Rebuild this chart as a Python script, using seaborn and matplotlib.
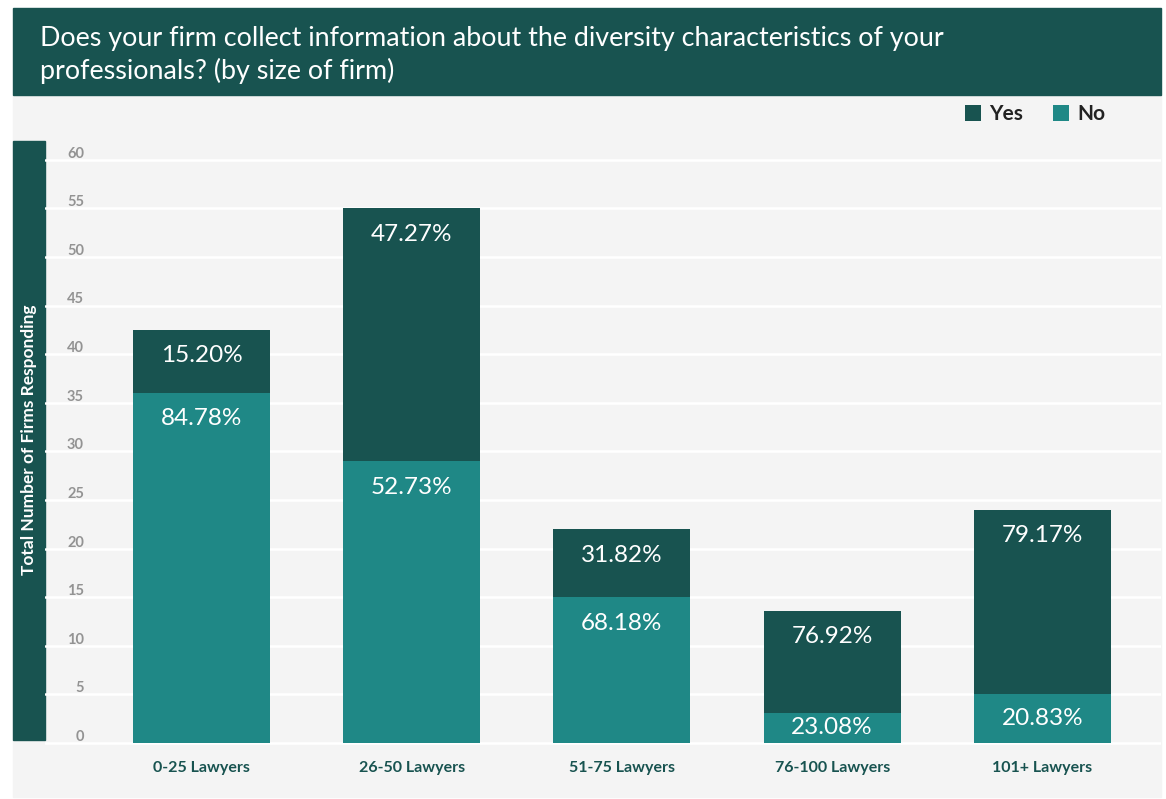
import matplotlib
matplotlib.use("Agg")
import matplotlib.pyplot as plt
from matplotlib.patches import Rectangle, Patch
import seaborn as sns
import pandas as pd

# ---- data -------------------------------------------------------------
categories = ["0-25 Lawyers", "26-50 Lawyers", "51-75 Lawyers", "76-100 Lawyers", "101+ Lawyers"]
total_firms = [42.5, 55, 22, 13.6, 24]          # total firms responding per size band
yes_pct = [15.20, 47.27, 31.82, 76.92, 79.17]   # share answering "Yes"
no_pct = [84.78, 52.73, 68.18, 23.08, 20.83]    # share answering "No"
y_ticks = [0, 5, 10, 15, 20, 25, 30, 35, 40, 45, 50, 55, 60]

title = "Does your firm collect information about the diversity characteristics of your\nprofessionals? (by size of firm)"
y_label = "Total Number of Firms Responding"

# ---- style ------------------------------------------------------------
DARK = "#185350"
TEAL = "#1f8886"
PANEL = "#f4f4f4"
TICK_GREY = "#939393"

sns.set_theme(style="white")
plt.rcParams["font.family"] = ["Lato", "DejaVu Sans"]

W, H, DPI = 1166, 799, 100
fig = plt.figure(figsize=(W / DPI, H / DPI), dpi=DPI, facecolor="white")


def fx(px):
    return px / W


def fy(py):
    return 1 - py / H


# background panel and title banner
fig.patches.append(Rectangle((fx(13), fy(797)), fx(1161) - fx(13), fy(95) - fy(797),
                             transform=fig.transFigure, color=PANEL, zorder=-3))
fig.patches.append(Rectangle((fx(13), fy(95)), fx(1161) - fx(13), fy(8) - fy(95),
                             transform=fig.transFigure, color=DARK, zorder=-2))
fig.text(fx(40), fy(55), title, color="white", fontsize=19.4, ha="left", va="center",
         linespacing=1.35)

# vertical band carrying the y-axis title
fig.patches.append(Rectangle((fx(13), fy(740)), fx(45) - fx(13), fy(141) - fy(740),
                             transform=fig.transFigure, color=DARK, zorder=-2))
fig.text(fx(29), fy(440), y_label, rotation=90, color="white", fontsize=12.5,
         fontweight="bold", ha="center", va="center")

# ---- plot area --------------------------------------------------------
ax_left, ax_right, ax_top, ax_bottom = 45, 1161, 141, 747
ax = fig.add_axes([fx(ax_left), fy(ax_bottom), fx(ax_right) - fx(ax_left), fy(ax_top) - fy(ax_bottom)])
ax.set_facecolor("none")
ax.set_zorder(2)

df = pd.DataFrame({
    "size": categories,
    "total": total_firms,
    "no": [t * p / 100 for t, p in zip(total_firms, no_pct)],
})

bar_w = 0.652
# full-height bars in the "Yes" colour, with the "No" portion drawn over their base
sns.barplot(data=df, x="size", y="total", color=DARK, width=bar_w, saturation=1,
            linewidth=0, edgecolor="none", ax=ax, zorder=3)
sns.barplot(data=df, x="size", y="no", color=TEAL, width=bar_w, saturation=1,
            linewidth=0, edgecolor="none", ax=ax, zorder=4)

ax.set_xlim(-0.744, 4.564)
ax.set_ylim(-0.41, 61.93)

# white horizontal gridlines
ax.set_yticks(y_ticks)
ax.yaxis.grid(True, color="white", linewidth=1.8, zorder=1)
ax.set_axisbelow(True)
ax.xaxis.grid(False)
ax.tick_params(axis="y", left=False, labelleft=False)
for sp in ax.spines.values():
    sp.set_visible(False)

# tick values sit just above their gridline, inside the plot
label_x = (84 - ax_left) / (ax_right - ax_left)
for v in y_ticks:
    ax.annotate(str(v), xy=(label_x, v), xycoords=ax.get_yaxis_transform(),
                xytext=(0, 1.5), textcoords="offset points", ha="right", va="baseline",
                color=TICK_GREY, fontsize=10.5, fontweight="bold", zorder=2)

ax.set_xlabel("")
ax.set_ylabel("")
ax.tick_params(axis="x", bottom=False, pad=4)
for lbl in ax.get_xticklabels():
    lbl.set_fontweight("bold")
    lbl.set_color(DARK)
    lbl.set_fontsize(11.5)

# percentage labels near the top of each segment (kept inside short segments)
px_per_unit = (ax_bottom - ax_top) / (61.93 + 0.41)
pt_per_px = 72 / DPI


def label_offset(seg_height):
    seg_px = seg_height * px_per_unit
    return -min(26, seg_px / 2) * pt_per_px


for i, (t, n, yp, np_) in enumerate(zip(df["total"], df["no"], yes_pct, no_pct)):
    ax.annotate(f"{yp:.2f}%", xy=(i, t), xytext=(0, label_offset(t - n)), textcoords="offset points",
                ha="center", va="center", color="white", fontsize=17.5, zorder=5)
    ax.annotate(f"{np_:.2f}%", xy=(i, n), xytext=(0, label_offset(n)), textcoords="offset points",
                ha="center", va="center", color="white", fontsize=17.5, zorder=5)

# legend
handles = [Patch(facecolor=DARK, edgecolor="none", label="Yes"),
           Patch(facecolor=TEAL, edgecolor="none", label="No")]
leg = fig.legend(handles=handles, loc="center right", bbox_to_anchor=(fx(1114), fy(114)),
                 ncol=2, frameon=False, handlelength=0.8, handleheight=0.8,
                 handletextpad=0.4, columnspacing=1.4, borderaxespad=0,
                 prop={"weight": "bold", "size": 15})
for txt in leg.get_texts():
    txt.set_color("#222222")

fig.savefig("out.png", dpi=DPI, facecolor="white")
